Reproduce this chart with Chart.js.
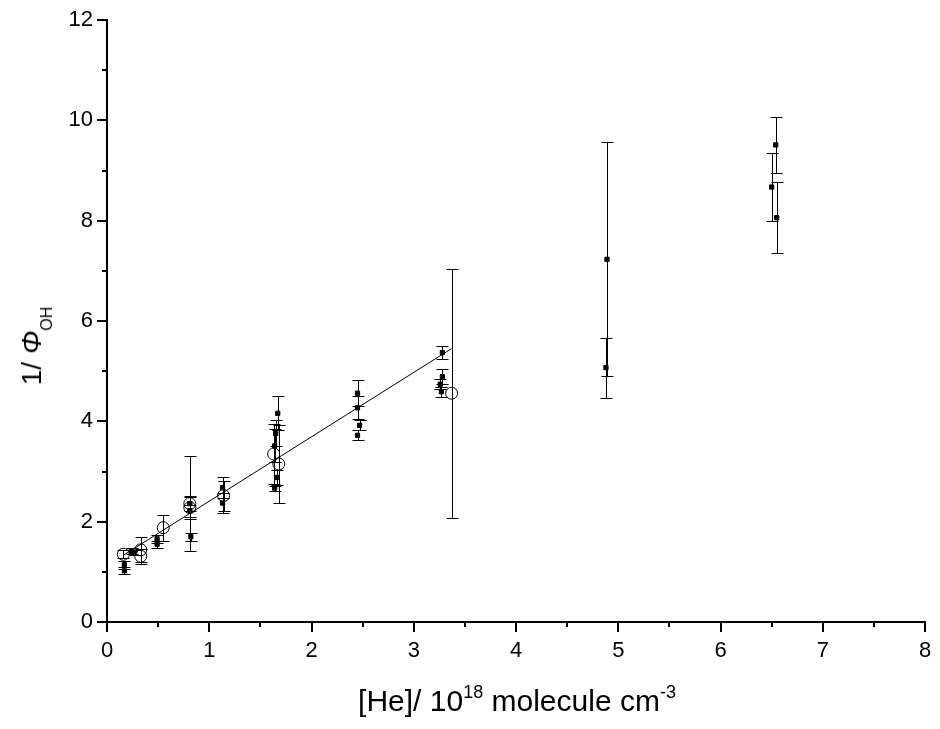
<!DOCTYPE html>
<html>
<head>
<meta charset="utf-8">
<script src="https://cdn.jsdelivr.net/npm/chart.js@4/dist/chart.umd.min.js"></script>
<style>
  html, body { margin: 0; padding: 0; background: #fff; }
  #wrap { position: relative; width: 940px; height: 729px; }
  #c { position: absolute; left: 0; top: 0; }
  .title { position: absolute; font-family: "Liberation Sans", Arial, sans-serif; color: #000; white-space: nowrap; line-height: 30px; }
  #xt { font-size: 30px; left: 517px; top: 686px; transform: translateX(-50%); }
  #xt sup { font-size: 18px; vertical-align: 13px; line-height: 0; }
  #yt { font-size: 28px; left: 32px; top: 346px; transform: translate(-50%, -50%) rotate(-90deg); }
  #yt sub { font-size: 16px; vertical-align: -11px; line-height: 0; }
</style>
</head>
<body>
<div id="wrap">
  <canvas id="c" width="940" height="729"></canvas>
  <div class="title" id="xt">[He]/ 10<sup>18</sup> molecule cm<sup>-3</sup></div>
  <div class="title" id="yt">1/ <i>Φ</i><sub>OH</sub></div>
</div>
<script>
// Filled squares: measured points
const squareX = [0.17, 0.17, 0.24, 0.27, 0.49, 0.49, 0.81, 0.81, 0.82, 1.13, 1.13, 1.67, 1.65, 1.64, 1.66, 1.64, 2.45, 2.45, 2.47, 2.45, 3.28, 3.28, 3.26, 3.27, 4.89, 4.88, 6.54, 6.50, 6.55];
const squareY = [1.14, 1.02, 1.41, 1.38, 1.66, 1.55, 2.36, 2.22, 1.70, 2.68, 2.37, 4.16, 3.76, 3.51, 2.88, 2.67, 4.56, 4.27, 3.92, 3.72, 5.37, 4.89, 4.74, 4.59, 7.23, 5.07, 9.51, 8.67, 8.06];
const squareErr = [0.08, 0.07, 0.06, 0.05, 0.08, 0.07, 0.15, 0.12, 0.08, 0.21, 0.20, 0.34, 0.26, 0.33, 0.14, 0.05, 0.26, 0.23, 0.10, 0.10, 0.13, 0.15, 0.10, 0.10, 2.33, 0.60, 0.56, 0.68, 0.71];

// Open circles: averaged points
const circleX = [0.16, 0.33, 0.33, 0.55, 0.81, 0.81, 1.14, 1.63, 1.68, 3.37];
const circleY = [1.35, 1.44, 1.31, 1.88, 2.36, 2.28, 2.52, 3.35, 3.15, 4.56];
const circleErr = [0.08, 0.25, 0.15, 0.26, 0.95, 0.22, 0.30, 0.60, 0.77, 2.48];

// Linear fit line endpoints
const fitX = [0.16, 3.37];
const fitY = [1.33, 5.45];

// Axis ranges / ticks
const xTicks = [0, 1, 2, 3, 4, 5, 6, 7, 8];
const yTicks = [0, 2, 4, 6, 8, 10, 12];
const xMinorTicks = [0.5, 1.5, 2.5, 3.5, 4.5, 5.5, 6.5, 7.5];
const yMinorTicks = [1, 3, 5, 7, 9, 11];

const toPts = (xs, ys) => xs.map((x, i) => ({ x: x, y: ys[i] }));

const errorBarPlugin = {
  id: 'errorBars',
  beforeDatasetDraw(chart, args) {
    const ds = chart.data.datasets[args.index];
    if (!ds.errors) return;
    const xs = chart.scales.x, ys = chart.scales.y;
    const ctx = chart.ctx;
    ctx.save();
    ctx.strokeStyle = '#000';
    ctx.lineWidth = 1;
    ds.data.forEach((p, i) => {
      const e = ds.errors[i];
      const px = Math.round(xs.getPixelForValue(p.x)) + 0.5;
      const t = Math.round(ys.getPixelForValue(p.y + e)) + 0.5;
      const b = Math.round(ys.getPixelForValue(p.y - e)) + 0.5;
      ctx.beginPath();
      ctx.moveTo(px, t); ctx.lineTo(px, b);
      ctx.moveTo(px - 6, t); ctx.lineTo(px + 6, t);
      ctx.moveTo(px - 6, b); ctx.lineTo(px + 6, b);
      ctx.stroke();
    });
    ctx.restore();
  }
};

const minorTickPlugin = {
  id: 'minorTicks',
  afterDraw(chart) {
    const xs = chart.scales.x, ys = chart.scales.y;
    const ctx = chart.ctx;
    const area = chart.chartArea;
    ctx.save();
    ctx.strokeStyle = '#000';
    ctx.lineWidth = 2;
    ctx.beginPath();
    xMinorTicks.forEach(v => {
      const px = Math.round(xs.getPixelForValue(v));
      ctx.moveTo(px, area.bottom); ctx.lineTo(px, area.bottom + 5);
    });
    yMinorTicks.forEach(v => {
      const py = Math.round(ys.getPixelForValue(v));
      ctx.moveTo(area.left, py); ctx.lineTo(area.left - 5, py);
    });
    ctx.stroke();
    ctx.restore();
  }
};

const tickFont = { family: '"Liberation Sans", Arial, sans-serif', size: 22 };

new Chart(document.getElementById('c'), {
  type: 'scatter',
  data: {
    datasets: [
      {
        label: 'measured',
        data: toPts(squareX, squareY),
        errors: squareErr,
        pointStyle: 'rect',
        pointRadius: 3,
        backgroundColor: '#000',
        borderColor: '#000',
        borderWidth: 1,
        order: 1
      },
      {
        label: 'fit',
        type: 'line',
        data: toPts(fitX, fitY),
        borderColor: '#000',
        borderWidth: 1,
        pointRadius: 0,
        fill: false,
        tension: 0,
        order: 2
      },
      {
        label: 'average',
        data: toPts(circleX, circleY),
        errors: circleErr,
        pointStyle: 'circle',
        pointRadius: 6,
        backgroundColor: 'rgba(255,255,255,0)',
        borderColor: '#000',
        borderWidth: 1,
        order: 3
      }
    ]
  },
  options: {
    responsive: false,
    animation: false,
    events: [],
    layout: { padding: { left: 0, right: 15, top: 20, bottom: 0 } },
    plugins: { legend: { display: false }, tooltip: { enabled: false } },
    scales: {
      x: {
        type: 'linear',
        min: 0, max: 8,
        afterFit(s) { s.height = 107; },
        afterBuildTicks(s) { s.ticks = xTicks.map(v => ({ value: v })); },
        ticks: { color: '#000', font: tickFont, padding: 6, maxRotation: 0 },
        grid: { display: true, drawOnChartArea: false, drawTicks: true, tickLength: 10, color: '#000', lineWidth: 2 },
        border: { display: true, color: '#000', width: 2 }
      },
      y: {
        type: 'linear',
        min: 0, max: 12,
        afterFit(s) { s.width = 107; },
        afterBuildTicks(s) { s.ticks = yTicks.map(v => ({ value: v })); },
        ticks: { color: '#000', font: tickFont, padding: 4 },
        grid: { display: true, drawOnChartArea: false, drawTicks: true, tickLength: 10, color: '#000', lineWidth: 2 },
        border: { display: true, color: '#000', width: 2 }
      }
    }
  },
  plugins: [errorBarPlugin, minorTickPlugin]
});
</script>
</body>
</html>
